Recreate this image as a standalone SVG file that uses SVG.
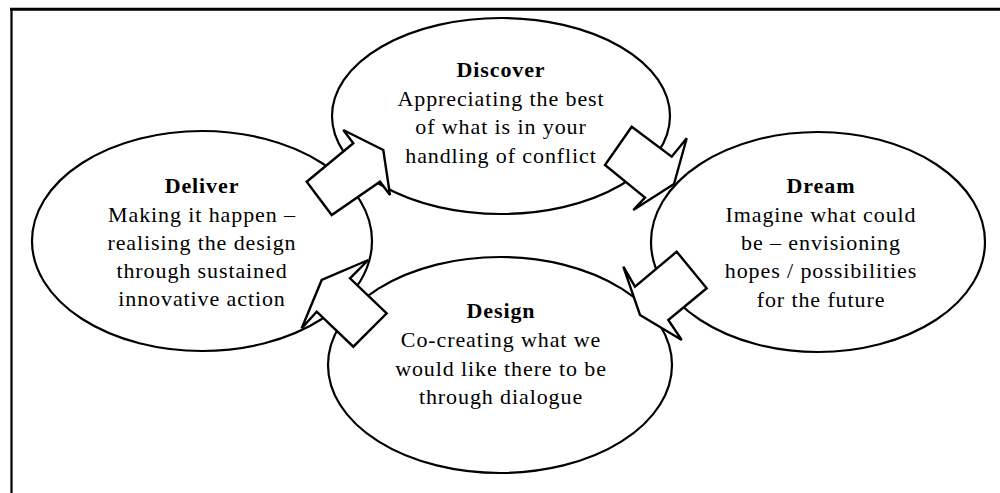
<svg xmlns="http://www.w3.org/2000/svg" width="1000" height="493" viewBox="0 0 1000 493">
<style>
.bg{fill:#ffffff}
.frame{stroke:#000;fill:none}
.node ellipse{fill:#ffffff;stroke:#000;stroke-width:2.2}
.arrow{fill:#ffffff;stroke:#000;stroke-width:2.4;stroke-linejoin:miter}
text{font-family:"Liberation Serif","Times New Roman",serif;font-size:22px;fill:#000;text-anchor:middle;letter-spacing:0.9px}
.title{font-weight:bold}
</style>
<rect class="bg" x="0" y="0" width="1000" height="493"/>
<g id="frame">
<line class="frame" x1="10" y1="9.3" x2="1000" y2="9.3" stroke-width="3"/>
<line class="frame" x1="11.5" y1="8" x2="11.5" y2="493" stroke-width="2.2"/>
</g>
<g id="node-discover" class="node">
<ellipse cx="501" cy="116" rx="169" ry="98"/>
<text class="title" x="501" y="77">Discover</text>
<text x="501" y="105.5">Appreciating the best</text>
<text x="501" y="134">of what is in your</text>
<text x="501" y="162.5">handling of conflict</text>
</g>
<g id="node-deliver" class="node">
<ellipse cx="202" cy="241" rx="170" ry="110"/>
<text class="title" x="202" y="193">Deliver</text>
<text x="202" y="222">Making it happen –</text>
<text x="202" y="250">realising the design</text>
<text x="202" y="278">through sustained</text>
<text x="202" y="306">innovative action</text>
</g>
<g id="node-dream" class="node">
<ellipse cx="818" cy="242" rx="167" ry="110"/>
<text class="title" x="821" y="193">Dream</text>
<text x="821" y="222">Imagine what could</text>
<text x="821" y="250">be – envisioning</text>
<text x="821" y="278">hopes / possibilities</text>
<text x="821" y="307">for the future</text>
</g>
<g id="node-design" class="node">
<ellipse cx="500" cy="365" rx="172" ry="108"/>
<text class="title" x="501" y="318">Design</text>
<text x="501" y="347">Co-creating what we</text>
<text x="501" y="375.5">would like there to be</text>
<text x="501" y="404">through dialogue</text>
</g>
<g id="connectors">
<polygon class="arrow" points="306.7,181.7 353.3,143.3 343.3,130 383.3,150 390,195 380,181.7 331.7,215"/>
<polygon class="arrow" points="631.7,126.7 671.7,156.7 686.7,138.3 674,184 633.3,210 645,197.5 605,165"/>
<polygon class="arrow" points="676.7,251.7 706.7,288.3 668.3,320 681.7,340 640,315 623.3,266.7 635,286.7"/>
<polygon class="arrow" points="386.7,313.3 350,278.3 368.3,260 321.7,280 301.7,328.3 316.7,311.7 353.3,346.7"/>
</g>
</svg>
